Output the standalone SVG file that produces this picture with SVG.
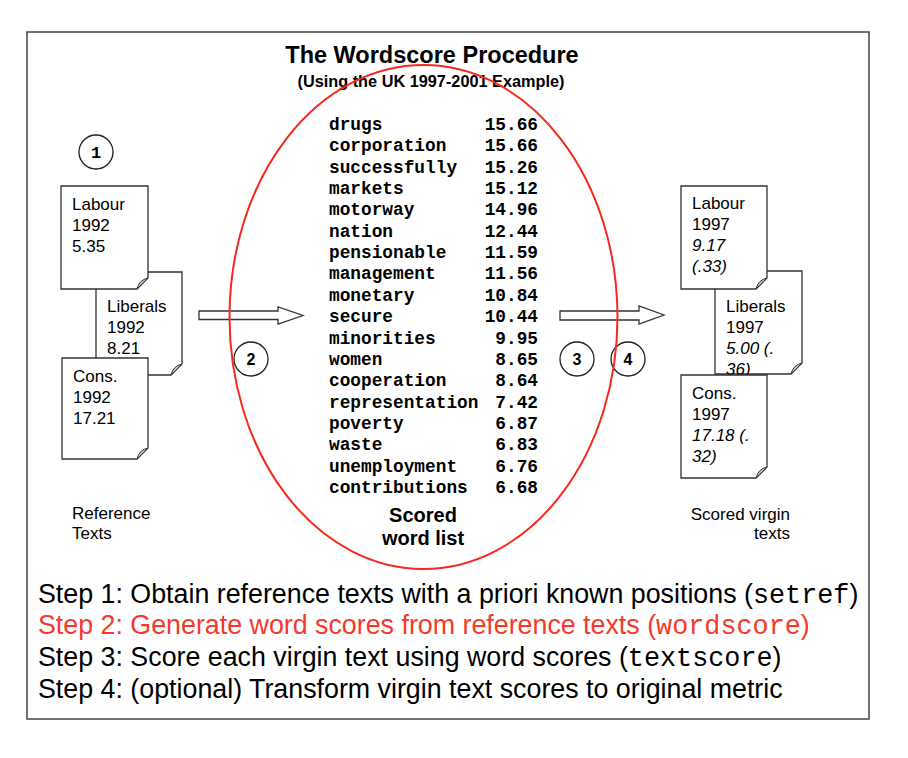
<svg xmlns="http://www.w3.org/2000/svg" width="908" height="758" viewBox="0 0 908 758">
<style>
.sans{font-family:"Liberation Sans",Arial,Helvetica,sans-serif}
.mono{font-family:"Liberation Mono","Courier New",monospace}
.doc{fill:#fff;stroke:#333;stroke-width:1.3}
.fold{fill:#c8c8c8;stroke:#333;stroke-width:1}
.dt{font-family:"Liberation Sans",Arial,sans-serif;font-size:17px;fill:#000}
.it{font-style:italic}
.circ{fill:#fff;stroke:#222;stroke-width:1.3}
.cn{font-family:"Liberation Sans",Arial,sans-serif;font-size:16px;font-weight:bold;text-anchor:middle}
.w{font-family:"Liberation Mono","Courier New",monospace;font-weight:bold;font-size:17.8px}
.n{font-family:"Liberation Mono","Courier New",monospace;font-weight:bold;font-size:17.8px;text-anchor:end}
.arrow{fill:#fff;stroke:#333;stroke-width:1.3}
.step{font-family:"Liberation Sans",Arial,sans-serif;font-size:26.8px;fill:#000}
.code{font-family:"Liberation Mono","Courier New",monospace}
.red{fill:#f5392a}
</style>
<rect width="908" height="758" fill="#fff"/>
<rect id="frame" x="27" y="32" width="842" height="687" fill="none" stroke="#444" stroke-width="1.5"/>

<g id="title">
<text class="sans" x="432" y="63" font-size="23.5" font-weight="bold" text-anchor="middle">The Wordscore Procedure</text>
<text class="sans" x="431" y="87" font-size="16.3" font-weight="bold" text-anchor="middle">(Using the UK 1997-2001 Example)</text>
</g>

<g id="circle1"><circle class="circ" cx="96" cy="152" r="17"/><text class="mono" x="96" y="158" font-size="17" font-weight="bold" text-anchor="middle">1</text></g>

<g id="doc-liberals-1992">
<path class="doc" d="M96,272 H182 V364 L171,375 H96 Z"/>
<path class="fold" d="M182,364 L171,375 Q173,366 182,364 Z"/>
<text class="dt" x="107" y="312">Liberals</text>
<text class="dt" x="107" y="333">1992</text>
<text class="dt" x="107" y="354">8.21</text>
</g>
<g id="doc-labour-1992">
<path class="doc" d="M61,186 H148 V278 L137,289 H61 Z"/>
<path class="fold" d="M148,278 L137,289 Q139,280 148,278 Z"/>
<text class="dt" x="72" y="210">Labour</text>
<text class="dt" x="72" y="231">1992</text>
<text class="dt" x="72" y="252">5.35</text>
</g>
<g id="doc-cons-1992">
<path class="doc" d="M62,358 H148 V448 L137,459 H62 Z"/>
<path class="fold" d="M148,448 L137,459 Q139,450 148,448 Z"/>
<text class="dt" x="73" y="382">Cons.</text>
<text class="dt" x="73" y="403">1992</text>
<text class="dt" x="73" y="424">17.21</text>
</g>
<g id="label-reference">
<text class="dt" x="72" y="519">Reference</text>
<text class="dt" x="72" y="539">Texts</text>
</g>

<g id="connectors">
<polygon class="arrow" points="199,311 278,311 278,307 303,315.5 278,324 278,319.5 199,319.5"/>
<polygon class="arrow" points="560,311 639,311 639,306 664,315 639,324 639,320 560,320"/>
</g>

<g id="circle2"><circle class="circ" cx="251" cy="359" r="17"/><text class="cn" x="251" y="365">2</text></g>
<g id="circle3"><circle class="circ" cx="577" cy="359" r="17"/><text class="cn" x="577" y="365">3</text></g>
<g id="circle4"><circle class="circ" cx="628" cy="359" r="17"/><text class="cn" x="628" y="365">4</text></g>

<g id="wordlist">
<text class="w" x="329" y="130">drugs</text><text class="n" x="538" y="130">15.66</text>
<text class="w" x="329" y="151.35">corporation</text><text class="n" x="538" y="151.35">15.66</text>
<text class="w" x="329" y="172.7">successfully</text><text class="n" x="538" y="172.7">15.26</text>
<text class="w" x="329" y="194.05">markets</text><text class="n" x="538" y="194.05">15.12</text>
<text class="w" x="329" y="215.4">motorway</text><text class="n" x="538" y="215.4">14.96</text>
<text class="w" x="329" y="236.75">nation</text><text class="n" x="538" y="236.75">12.44</text>
<text class="w" x="329" y="258.1">pensionable</text><text class="n" x="538" y="258.1">11.59</text>
<text class="w" x="329" y="279.45">management</text><text class="n" x="538" y="279.45">11.56</text>
<text class="w" x="329" y="300.8">monetary</text><text class="n" x="538" y="300.8">10.84</text>
<text class="w" x="329" y="322.15">secure</text><text class="n" x="538" y="322.15">10.44</text>
<text class="w" x="329" y="343.5">minorities</text><text class="n" x="538" y="343.5">9.95</text>
<text class="w" x="329" y="364.85">women</text><text class="n" x="538" y="364.85">8.65</text>
<text class="w" x="329" y="386.2">cooperation</text><text class="n" x="538" y="386.2">8.64</text>
<text class="w" x="329" y="407.55">representation</text><text class="n" x="538" y="407.55">7.42</text>
<text class="w" x="329" y="428.9">poverty</text><text class="n" x="538" y="428.9">6.87</text>
<text class="w" x="329" y="450.25">waste</text><text class="n" x="538" y="450.25">6.83</text>
<text class="w" x="329" y="471.6">unemployment</text><text class="n" x="538" y="471.6">6.76</text>
<text class="w" x="329" y="492.95">contributions</text><text class="n" x="538" y="492.95">6.68</text>
<text class="sans" x="423" y="522" font-size="20" font-weight="bold" text-anchor="middle">Scored</text>
<text class="sans" x="423" y="545" font-size="20" font-weight="bold" text-anchor="middle">word list</text>
</g>

<g id="doc-liberals-1997">
<path class="doc" d="M715,271 H802 V363 L791,374 H715 Z"/>
<path class="fold" d="M802,363 L791,374 Q793,365 802,363 Z"/>
<text class="dt" x="726" y="312">Liberals</text>
<text class="dt" x="726" y="333">1997</text>
<text class="dt it" x="726" y="354">5.00 (.</text>
<text class="dt it" x="726" y="375">36)</text>
</g>
<g id="doc-labour-1997">
<path class="doc" d="M681,186 H767 V278 L756,289 H681 Z"/>
<path class="fold" d="M767,278 L756,289 Q758,280 767,278 Z"/>
<text class="dt" x="692" y="209">Labour</text>
<text class="dt" x="692" y="230">1997</text>
<text class="dt it" x="692" y="251">9.17</text>
<text class="dt it" x="692" y="272">(.33)</text>
</g>
<g id="doc-cons-1997">
<path class="doc" d="M681,375 H767 V467 L756,478 H681 Z"/>
<path class="fold" d="M767,467 L756,478 Q758,469 767,467 Z"/>
<text class="dt" x="692" y="399">Cons.</text>
<text class="dt" x="692" y="420">1997</text>
<text class="dt it" x="692" y="441">17.18 (.</text>
<text class="dt it" x="692" y="462">32)</text>
</g>
<g id="label-scored">
<text class="dt" x="790" y="520" text-anchor="end">Scored virgin</text>
<text class="dt" x="790" y="539" text-anchor="end">texts</text>
</g>

<ellipse id="ellipse" cx="423.5" cy="317" rx="194" ry="252" fill="none" stroke="#f5291c" stroke-width="2"/>

<g id="steps">
<text class="step" x="38" y="603">Step 1: Obtain reference texts with a priori known positions (<tspan class="code">setref</tspan>)</text>
<text class="step red" x="38" y="634">Step 2: Generate word scores from reference texts (<tspan class="code">wordscore</tspan>)</text>
<text class="step" x="38" y="666">Step 3: Score each virgin text using word scores (<tspan class="code">textscore</tspan>)</text>
<text class="step" x="38" y="698">Step 4: (optional) Transform virgin text scores to original metric</text>
</g>
</svg>
